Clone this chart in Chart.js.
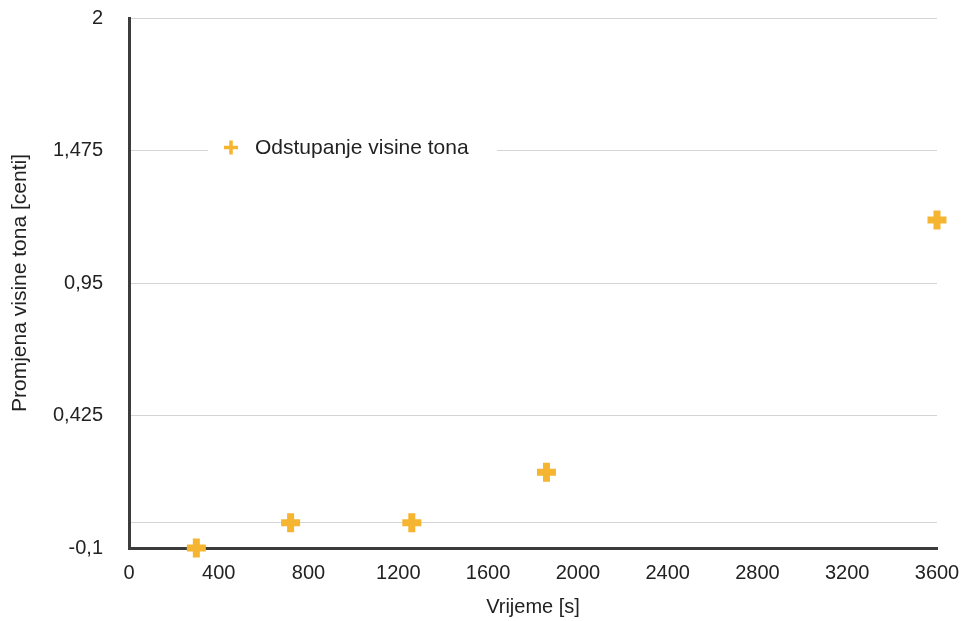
<!DOCTYPE html>
<html lang="hr">
  <head>
    <meta charset="utf-8" />
    <title>Odstupanje visine tona</title>
    <style>
      html, body { margin: 0; padding: 0; background: #ffffff; }
      #wrap { width: 966px; height: 621px; position: relative; }
    </style>
  </head>
  <body>
    <div id="wrap"><canvas id="chart"></canvas></div>
    <script src="https://cdn.jsdelivr.net/npm/chart.js@4/dist/chart.umd.min.js"></script>
    <script>
      // data
      const times = [300, 720, 1260, 1860, 3600];
      const pitchChange = [-0.1, 0, 0, 0.2, 1.2];
      const yTicks = [-0.1, 0, 0.425, 0.95, 1.475, 2];
      const seriesName = "Odstupanje visine tona";

      const yellow = "#f6b530";
      const fontFam = "'Liberation Sans', Arial, sans-serif";

      // legend sits inside the plot, on top of the 1,475 grid line
      const innerLegend = {
        id: "innerLegend",
        afterDraw(chart) {
          const ctx = chart.ctx;
          const cy = chart.scales.y.getPixelForValue(1.475) - 3;
          ctx.save();
          ctx.fillStyle = "#ffffff";
          ctx.fillRect(208, cy - 12, 289, 24);
          ctx.strokeStyle = yellow;
          ctx.lineWidth = 3.5;
          ctx.beginPath();
          ctx.moveTo(224, cy); ctx.lineTo(238, cy);
          ctx.moveTo(231, cy - 7); ctx.lineTo(231, cy + 7);
          ctx.stroke();
          ctx.fillStyle = "#222222";
          ctx.font = "21px " + fontFam;
          ctx.textBaseline = "middle";
          ctx.fillText(seriesName, 255, cy + 1);
          ctx.restore();
        }
      };

      new Chart(document.getElementById("chart"), {
        type: "scatter",
        plugins: [innerLegend],
        data: {
          datasets: [{
            label: seriesName,
            data: times.map((t, i) => ({ x: t, y: pitchChange[i] })),
            pointStyle: "cross",
            pointRadius: 9.5,
            pointHoverRadius: 9.5,
            borderWidth: 7,
            pointBorderWidth: 7,
            borderColor: yellow,
            backgroundColor: yellow,
            clip: false
          }]
        },
        options: {
          responsive: true,
          maintainAspectRatio: false,
          animation: false,
          layout: { autoPadding: false, padding: { top: 18, right: 29, left: 0, bottom: 0 } },
          plugins: {
            legend: { display: false },
            tooltip: { enabled: false }
          },
          scales: {
            x: {
              type: "linear",
              min: 0,
              max: 3600,
              afterFit: (s) => { s.height = 73; s.paddingRight = 0; s.paddingLeft = 0; },
              ticks: {
                stepSize: 400,
                color: "#222222",
                padding: 13,
                maxRotation: 0,
                font: { size: 20, family: fontFam },
                callback: (v) => String(v)
              },
              grid: { display: false, drawTicks: false },
              border: { display: true, color: "#3c3c3c", width: 3 },
              title: {
                display: true,
                text: "Vrijeme [s]",
                color: "#222222",
                font: { size: 20, family: fontFam },
                padding: { top: 0, bottom: 2 }
              }
            },
            y: {
              min: -0.1,
              max: 2,
              afterFit: (s) => { s.width = 129; s.paddingTop = 0; s.paddingBottom = 0; },
              afterBuildTicks: (s) => { s.ticks = yTicks.map((v) => ({ value: v })); },
              ticks: {
                color: "#222222",
                padding: 26,
                font: { size: 20, family: fontFam },
                callback: (v) => (v === 0 ? "" : String(v).replace(".", ","))
              },
              grid: { color: "#d4d4d4", lineWidth: 1, drawTicks: false },
              border: { display: true, color: "#3c3c3c", width: 3 },
              title: {
                display: true,
                text: "Promjena visine tona [centi]",
                color: "#222222",
                font: { size: 21, family: fontFam },
                padding: { top: 8, bottom: 0 }
              }
            }
          }
        }
      });
    </script>
  </body>
</html>
